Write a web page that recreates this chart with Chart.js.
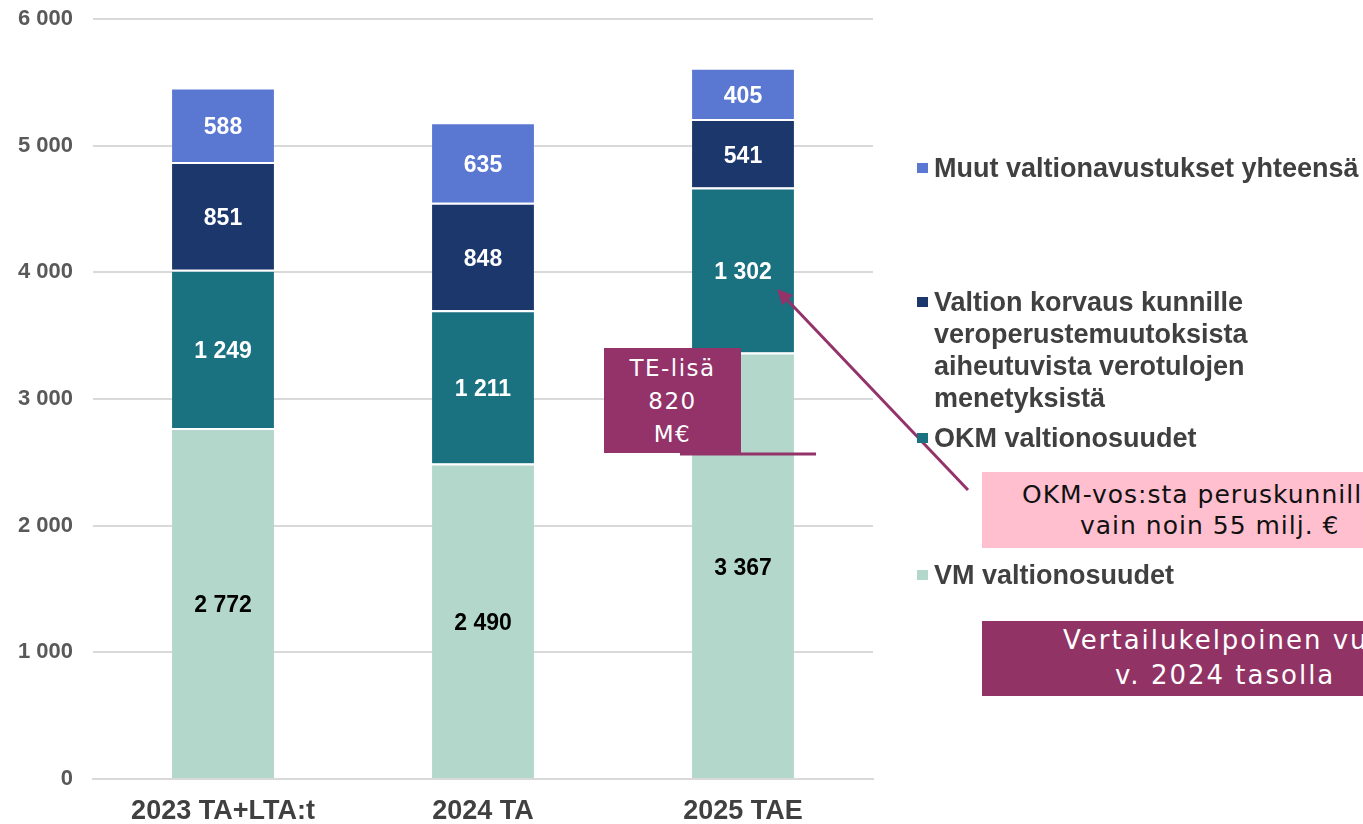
<!DOCTYPE html>
<html>
<head>
<meta charset="utf-8">
<script src="https://cdn.jsdelivr.net/npm/chart.js@4.4.1/dist/chart.umd.min.js"></script>
<style>
    html, body { margin: 0; padding: 0; background: #fff; overflow: hidden; }
    #wrap { position: relative; width: 1363px; height: 824px; overflow: hidden; }
    #chart { position: absolute; left: 0; top: 0; }
    .leg { position: absolute; left: 934px; font: bold 27px 'Liberation Sans', Arial, sans-serif; color: #404040; line-height: 32px; white-space: nowrap; }
    .sq { position: absolute; left: 917px; width: 11px; height: 10px; }
    .box { position: absolute; font-family: 'DejaVu Sans', sans-serif; white-space: nowrap; }
</style>
</head>
<body>
<div id="wrap">
    <canvas id="chart" width="1363" height="824"></canvas>

    <div class="sq" style="top:163px; background:#5a78d2;"></div>
    <div class="leg" style="top:152px;">Muut valtionavustukset yhteensä</div>

    <div class="sq" style="top:297px; background:#1b376b;"></div>
    <div class="leg" style="top:286px;">Valtion korvaus kunnille<br>veroperustemuutoksista<br>aiheutuvista verotulojen<br>menetyksistä</div>

    <div class="sq" style="top:433px; background:#1a7180;"></div>
    <div class="leg" style="top:422px;">OKM valtionosuudet</div>

    <div class="sq" style="top:570px; background:#b3d8cb;"></div>
    <div class="leg" style="top:559px;">VM valtionosuudet</div>

    <div class="box" style="left:604px; top:348px; width:137px; height:105px; background:#93336a; color:#fff; font-size:23px; letter-spacing:1.5px; line-height:33px; text-align:center; padding-top:4px; box-sizing:border-box;">TE-lisä<br>820<br>M€</div>

    <div class="box" style="left:982px; top:472px; width:500px; height:76px; background:#ffbfcf; color:#111; font-size:25px; letter-spacing:1px; line-height:31px; padding-top:7px; box-sizing:border-box;">
        <div style="margin-left:40px;">OKM-vos:sta peruskunnille</div>
        <div style="margin-left:98px;">vain noin 55 milj. €</div>
    </div>

    <div class="box" style="left:982px; top:621px; width:500px; height:75px; background:#923365; color:#fff; font-size:26px; letter-spacing:2px; line-height:35px; padding-top:2px; box-sizing:border-box;">
        <div style="margin-left:81px;">Vertailukelpoinen vuoden</div>
        <div style="margin-left:133px;">v. 2024 tasolla</div>
    </div>
</div>

<script>
const categories = ['2023 TA+LTA:t', '2024 TA', '2025 TAE'];
const vmValues = [2772, 2490, 3367];
const okmValues = [1249, 1211, 1302];
const korvausValues = [851, 848, 541];
const muutValues = [588, 635, 405];
const yTicks = [0, 1000, 2000, 3000, 4000, 5000, 6000];

function fmt(v) {
    return String(v).replace(/\B(?=(\d{3})+(?!\d))/g, ' ');
}

// value labels in the middle of each segment + arrow annotation
const segmentLabels = {
    id: 'segmentLabels',
    afterDatasetsDraw(chart) {
        const ctx = chart.ctx;
        ctx.save();
        ctx.font = "bold 23px 'Liberation Sans', Arial, sans-serif";
        ctx.textAlign = 'center';
        ctx.textBaseline = 'middle';
        chart.data.datasets.forEach((ds, i) => {
            chart.getDatasetMeta(i).data.forEach((bar, j) => {
                const y = (bar.y + bar.base) / 2 + 3;
                ctx.fillStyle = i === 0 ? '#000' : '#fff';
                ctx.fillText(fmt(ds.data[j]), bar.x, y);
            });
        });

        // TE line
        ctx.strokeStyle = '#93336a';
        ctx.lineWidth = 3;
        ctx.beginPath();
        ctx.moveTo(680, 454);
        ctx.lineTo(816, 454);
        ctx.stroke();

        // arrow pointing to the OKM 2025 segment
        const okm = chart.getDatasetMeta(1).data[2];
        const tipX = okm.x + 34;
        const tipY = (okm.y + okm.base) / 2 + 19;
        const fromX = 968, fromY = 490;
        const ang = Math.atan2(tipY - fromY, tipX - fromX);
        const len = 17;
        ctx.beginPath();
        ctx.moveTo(fromX, fromY);
        ctx.lineTo(tipX - Math.cos(ang) * len * 0.8, tipY - Math.sin(ang) * len * 0.8);
        ctx.stroke();
        ctx.fillStyle = '#93336a';
        ctx.beginPath();
        ctx.moveTo(tipX, tipY);
        ctx.lineTo(tipX - len * Math.cos(ang - 0.45), tipY - len * Math.sin(ang - 0.45));
        ctx.lineTo(tipX - len * Math.cos(ang + 0.45), tipY - len * Math.sin(ang + 0.45));
        ctx.closePath();
        ctx.fill();
        ctx.restore();
    }
};

const common = {
    borderColor: '#ffffff',
    borderWidth: { top: 2 },
    borderSkipped: false,
    categoryPercentage: 0.392,
    barPercentage: 1
};

new Chart(document.getElementById('chart'), {
    type: 'bar',
    data: {
        labels: categories,
        datasets: [
            { label: 'VM valtionosuudet', data: vmValues, backgroundColor: '#b3d8cb', ...common },
            { label: 'OKM valtionosuudet', data: okmValues, backgroundColor: '#1a7180', ...common },
            { label: 'Valtion korvaus kunnille veroperustemuutoksista aiheutuvista verotulojen menetyksistä', data: korvausValues, backgroundColor: '#1b376b', ...common },
            { label: 'Muut valtionavustukset yhteensä', data: muutValues, backgroundColor: '#5a78d2', ...common }
        ]
    },
    options: {
        responsive: false,
        animation: false,
        layout: { padding: { left: 0, top: 19, right: 490, bottom: 0 } },
        plugins: {
            legend: { display: false },
            tooltip: { enabled: false }
        },
        scales: {
            x: {
                stacked: true,
                grid: { display: false },
                border: { display: true, color: '#d9d9d9', width: 2 },
                ticks: {
                    color: '#404040',
                    padding: 8,
                    font: { family: "'Liberation Sans', Arial, sans-serif", size: 27, weight: 'bold' }
                },
                afterFit: s => { s.height = 45; }
            },
            y: {
                stacked: true,
                min: 0,
                max: 6000,
                afterBuildTicks: s => { s.ticks = yTicks.map(v => ({ value: v })); },
                grid: { color: '#d9d9d9', lineWidth: 2, drawTicks: false },
                border: { display: false },
                ticks: {
                    color: '#595959',
                    padding: 20,
                    font: { family: "'Liberation Sans', Arial, sans-serif", size: 22, weight: 'bold' },
                    callback: v => fmt(v)
                },
                afterFit: s => {
                    s.width = 93;
                    s.paddingTop = 0;
                    s.paddingBottom = 0;
                }
            }
        }
    },
    plugins: [segmentLabels]
});
</script>
</body>
</html>
